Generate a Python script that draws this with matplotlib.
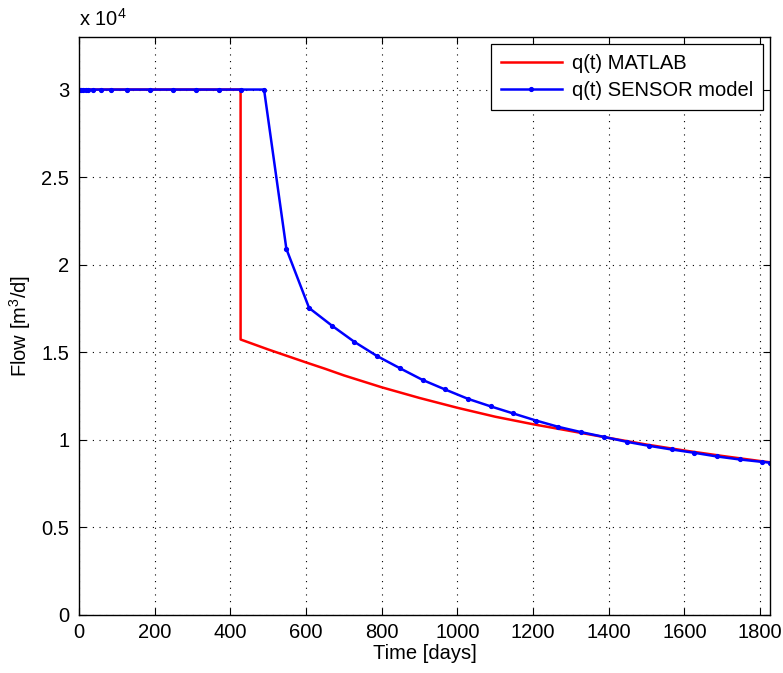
import matplotlib
matplotlib.use("Agg")
import matplotlib.pyplot as plt
from matplotlib.ticker import FuncFormatter

plt.rcParams['font.family'] = ['Liberation Sans', 'DejaVu Sans']
plt.rcParams['mathtext.fontset'] = 'custom'
plt.rcParams['mathtext.rm'] = 'Liberation Sans'

# MATLAB solution q(t)
t_matlab = [0, 427, 427, 500, 550, 600, 650, 700, 800, 900, 1000, 1100, 1200,
            1300, 1400, 1500, 1600, 1700, 1800, 1826]
q_matlab = [30000, 30000, 15730, 15160, 14790, 14420, 14060, 13680, 13000,
            12390, 11830, 11320, 10890, 10500, 10110, 9730, 9390, 9080, 8790,
            8720]

# SENSOR model q(t)
t_sensor = [0, 2, 6, 11, 18, 24, 38, 57, 85, 127, 187, 248, 309, 369, 427,
            489, 548, 608, 669, 728, 788, 848, 908, 967, 1028, 1088, 1147,
            1208, 1267, 1327, 1387, 1447, 1506, 1566, 1626, 1686, 1746, 1806,
            1826]
q_sensor = [30000, 30000, 30000, 30000, 30000, 30000, 30000, 30000, 30000,
            30000, 30000, 30000, 30000, 30000, 30000, 30000, 20900, 17530,
            16510, 15590, 14780, 14090, 13420, 12880, 12340, 11910, 11510,
            11100, 10740, 10440, 10170, 9890, 9660, 9450, 9260, 9050, 8880,
            8740, 8700]

x_ticks = [0, 200, 400, 600, 800, 1000, 1200, 1400, 1600, 1800]
y_ticks = [0, 5000, 10000, 15000, 20000, 25000, 30000]

fig = plt.figure(figsize=(7.83, 6.73), dpi=100)
ax = fig.add_axes([0.1009, 0.0862, 0.8825, 0.8588])

ax.plot(t_matlab, q_matlab, color='#ff0000', lw=1.8, label='q(t) MATLAB')
ax.plot(t_sensor, q_sensor, color='#0000ff', lw=1.8, marker='.', ms=5.5,
        label='q(t) SENSOR model')

ax.set_xlim(0, 1826)
ax.set_ylim(0, 33000)
ax.set_xticks(x_ticks)
ax.set_yticks(y_ticks)
ax.yaxis.set_major_formatter(FuncFormatter(lambda v, p: '%g' % (v / 1e4)))

ax.grid(True, linestyle=(0, (1, 5)), color='black', lw=0.8)
ax.tick_params(direction='in', length=5, width=0.8, top=True, right=True,
               labelsize=14.5, colors='black')
ax.tick_params(axis='x', pad=6)
ax.tick_params(axis='y', pad=7)
for s in ax.spines.values():
    s.set_linewidth(1.0)
    s.set_color('black')

ax.set_xlabel('Time [days]', fontsize=14.5, labelpad=1)
ax.set_ylabel('Flow [m$^3$/d]', fontsize=14.5, labelpad=6)
ax.text(0.0, 1.012, r'x 10$^4$', transform=ax.transAxes, fontsize=14.5,
        ha='left', va='bottom')

leg = ax.legend(loc='upper right', fontsize=14.5, frameon=True, fancybox=False,
                edgecolor='black', framealpha=1, handlelength=3.0,
                borderpad=0.5, labelspacing=0.4, handletextpad=0.5,
                borderaxespad=0.35, numpoints=1)
leg.get_frame().set_linewidth(0.9)

fig.savefig('out.png', dpi=100)
